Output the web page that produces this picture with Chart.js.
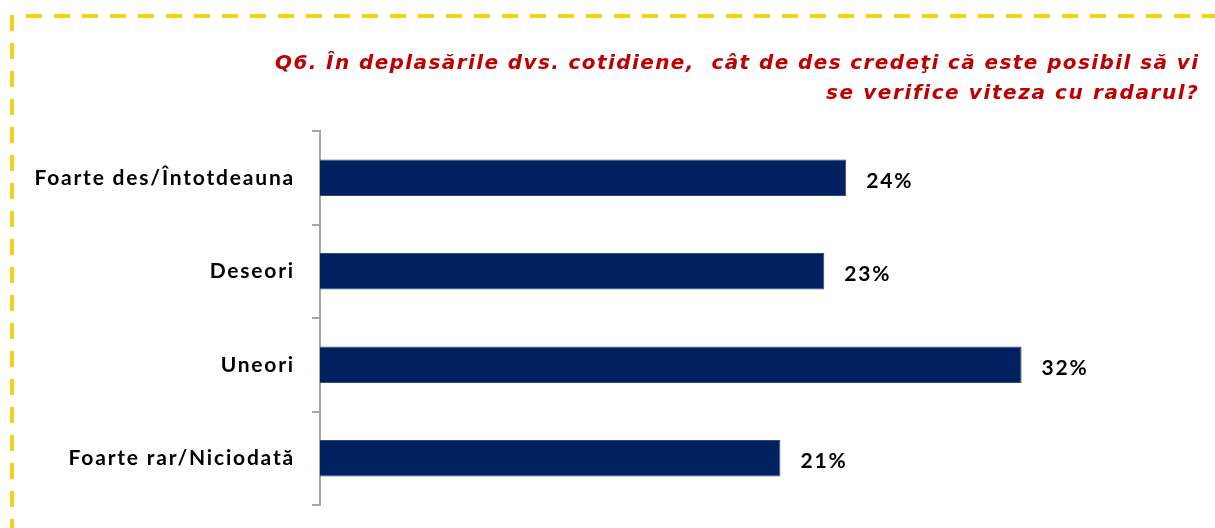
<!DOCTYPE html>
<html>
<head>
<meta charset="utf-8">
<script src="https://cdn.jsdelivr.net/npm/chart.js@4"></script>
<style>
  html, body { margin: 0; padding: 0; background: #fff; }
</style>
</head>
<body>
<canvas id="radarChart" width="1215" height="528"></canvas>
<script>
// Data
const categories = ["Foarte des/Întotdeauna", "Deseori", "Uneori", "Foarte rar/Niciodată"];
const shares = [24, 23, 32, 21];
const titleLines = [
  "Q6. În deplasările dvs. cotidiene,  cât de des credeţi că este posibil să vi",
  "se verifice viteza cu radarul?"
];
// approx. widths of the two title lines in the original
const titleWidths = [923, 372];

// dashed yellow frame (top + left edges), also sets label spacing
const framePlugin = {
  id: 'frame',
  beforeDraw(chart) {
    const ctx = chart.ctx;
    ctx.save();
    ctx.strokeStyle = '#F7D117';
    ctx.lineWidth = 4;
    ctx.setLineDash([16, 12]);
    ctx.beginPath();
    ctx.moveTo(26, 16);
    ctx.lineTo(1215, 16);
    ctx.stroke();
    ctx.beginPath();
    ctx.moveTo(12, 15);
    ctx.lineTo(12, 528);
    ctx.stroke();
    ctx.restore();
    ctx.letterSpacing = '1.8px';
  }
};

// title, right aligned, red italic
const titlePlugin = {
  id: 'qtitle',
  afterDraw(chart) {
    const ctx = chart.ctx;
    ctx.save();
    ctx.font = 'italic bold 20px "DejaVu Sans"';
    ctx.fillStyle = '#C00000';
    ctx.textAlign = 'left';
    ctx.textBaseline = 'alphabetic';
    titleLines.forEach((line, i) => {
      ctx.letterSpacing = '0px';
      const w = ctx.measureText(line).width;
      const sp = (titleWidths[i] - w) / (line.length - 1);
      ctx.letterSpacing = sp + 'px';
      ctx.fillText(line, 1198 - titleWidths[i], 69 + i * 30);
    });
    ctx.restore();
  }
};

// value labels at the end of each bar
const valueLabels = {
  id: 'valueLabels',
  afterDatasetsDraw(chart) {
    const ctx = chart.ctx;
    const meta = chart.getDatasetMeta(0);
    ctx.save();
    ctx.font = 'bold 21px Lato';
    ctx.letterSpacing = '1.8px';
    ctx.fillStyle = '#000';
    ctx.textAlign = 'left';
    ctx.textBaseline = 'middle';
    meta.data.forEach((bar, i) => {
      ctx.fillText(shares[i] + '%', bar.x + 20, bar.y + 3);
    });
    ctx.restore();
  }
};

new Chart(document.getElementById('radarChart'), {
  type: 'bar',
  data: {
    labels: categories,
    datasets: [{
      data: shares,
      backgroundColor: '#002060',
      borderColor: '#2F4A80',
      borderWidth: 1,
      barPercentage: 0.39,
      categoryPercentage: 1
    }]
  },
  options: {
    indexAxis: 'y',
    responsive: false,
    animation: false,
    layout: { padding: { top: 131, right: 18, bottom: 23, left: 0 } },
    plugins: {
      legend: { display: false },
      tooltip: { enabled: false },
      title: { display: false }
    },
    scales: {
      x: {
        display: false,
        min: 0,
        max: 40
      },
      y: {
        afterFit(scale) {
          scale.width = 320;
          scale.paddingTop = 0;
          scale.paddingBottom = 0;
        },
        border: { display: true, color: '#A6A6A6', width: 2 },
        grid: {
          offset: true,
          drawOnChartArea: false,
          drawTicks: true,
          tickLength: 8,
          color: '#A6A6A6',
          lineWidth: 2
        },
        ticks: {
          color: '#000',
          padding: 17,
          font: { family: 'Lato', size: 21, weight: 'bold' }
        }
      }
    }
  },
  plugins: [framePlugin, titlePlugin, valueLabels]
});
</script>
</body>
</html>
